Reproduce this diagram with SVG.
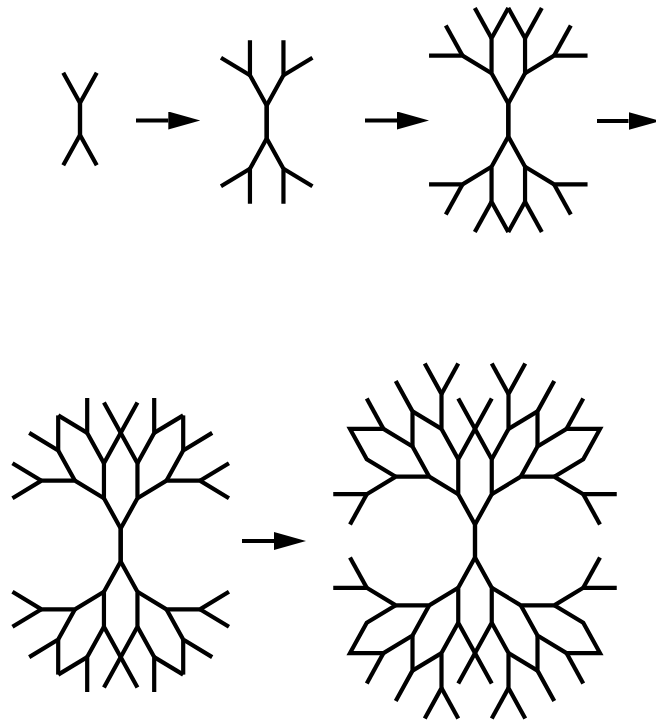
<svg xmlns="http://www.w3.org/2000/svg" xmlns:xlink="http://www.w3.org/1999/xlink" width="656" height="724" viewBox="0 0 656 724">
<style>
.br{fill:none;stroke:#000;stroke-width:4.2;stroke-linecap:butt;stroke-linejoin:miter}
.ar{fill:none;stroke:#000;stroke-width:4}
</style>
<defs>
<marker id="head" markerUnits="userSpaceOnUse" markerWidth="34" markerHeight="20" refX="0" refY="9" orient="auto">
<path d="M0,0 L32,9 L0,18 Z" fill="#000"/>
</marker>
<g id="q1" class="br">
<polyline points="0,0 0,-16 -16.75,-46.3"/>
</g>
<g id="q2" class="br">
<polyline points="0,0 0,-16.5 -16.75,-46.8 -16.75,-81.8"/>
<polyline points="-16.75,-46.8 -45.75,-64.3"/>
</g>
<g id="q3" class="br">
<polyline points="0,0 0,-16.5 -16.75,-46.8 -16.75,-81.8 0,-112.1"/>
<polyline points="-16.75,-81.8 -33.5,-112.1"/>
<polyline points="-16.75,-46.8 -45.75,-64.3 -79.25,-64.3"/>
<polyline points="-45.75,-64.3 -62.5,-94.6"/>
</g>
<g id="q4" class="br">
<polyline points="0,0 0,-16.5 -16.75,-46.8 -16.75,-81.8 16.75,-142.4"/>
<polyline points="-16.75,-81.8 -33.5,-112.1 -33.5,-147.1"/>
<polyline points="-16.75,-46.8 -45.75,-64.3 -79.25,-64.3 -108.25,-46.8"/>
<polyline points="-79.25,-64.3 -108.25,-81.8"/>
<polyline points="-45.75,-64.3 -62.5,-94.6 -91.5,-112.1"/>
<polyline points="-62.5,-94.6 -62.5,-129.6"/>
<polyline points="-33.5,-112.1 -62.5,-129.6"/>
</g>
<g id="q5" class="br">
<polyline points="0,0 0,-16.5 -16.75,-46.8 -16.75,-81.8 16.75,-142.4"/>
<polyline points="-16.75,-81.8 -33.5,-112.1 -33.5,-147.1 -50.25,-177.4"/>
<polyline points="-33.5,-147.1 -16.75,-177.4"/>
<polyline points="-16.75,-46.8 -45.75,-64.3 -79.25,-64.3 -108.25,-46.8 -141.75,-46.8"/>
<polyline points="-108.25,-46.8 -125,-16.5"/>
<polyline points="-45.75,-64.3 -62.5,-94.6 -91.5,-112.1 -125,-112.1 -108.25,-81.8 -79.25,-64.3"/>
<polyline points="-62.5,-94.6 -62.5,-129.6 -79.25,-159.9"/>
<polyline points="-33.5,-112.1 -62.5,-129.6"/>
<polyline points="-91.5,-112.1 -108.25,-142.4"/>
</g>
</defs>
<g id="stage1" transform="translate(80,119)">
<use xlink:href="#q1"/><use xlink:href="#q1" transform="scale(-1,1)"/><use xlink:href="#q1" transform="scale(1,-1)"/><use xlink:href="#q1" transform="scale(-1,-1)"/>
</g>
<g id="stage2" transform="translate(266.7,122)">
<use xlink:href="#q2"/><use xlink:href="#q2" transform="scale(-1,1)"/><use xlink:href="#q2" transform="scale(1,-1)"/><use xlink:href="#q2" transform="scale(-1,-1)"/>
</g>
<g id="stage3" transform="translate(508.3,120)">
<use xlink:href="#q3"/><use xlink:href="#q3" transform="scale(-1,1)"/><use xlink:href="#q3" transform="scale(1,-1)"/><use xlink:href="#q3" transform="scale(-1,-1)"/>
</g>
<g id="stage4" transform="translate(120.7,545)">
<use xlink:href="#q4"/><use xlink:href="#q4" transform="scale(-1,1)"/><use xlink:href="#q4" transform="scale(1,-1)"/><use xlink:href="#q4" transform="scale(-1,-1)"/>
</g>
<g id="stage5" transform="translate(475,541)">
<use xlink:href="#q5"/><use xlink:href="#q5" transform="scale(-1,1)"/><use xlink:href="#q5" transform="scale(1,-1)"/><use xlink:href="#q5" transform="scale(-1,-1)"/>
</g>
<g id="connectors">
<line class="ar" x1="136" y1="120.5" x2="168.3" y2="120.5" marker-end="url(#head)"/>
<line class="ar" x1="365" y1="120.5" x2="397" y2="120.5" marker-end="url(#head)"/>
<line class="ar" x1="597" y1="121" x2="628.5" y2="121" marker-end="url(#head)"/>
<line class="ar" x1="242" y1="541" x2="274" y2="541" marker-end="url(#head)"/>
</g>
</svg>
